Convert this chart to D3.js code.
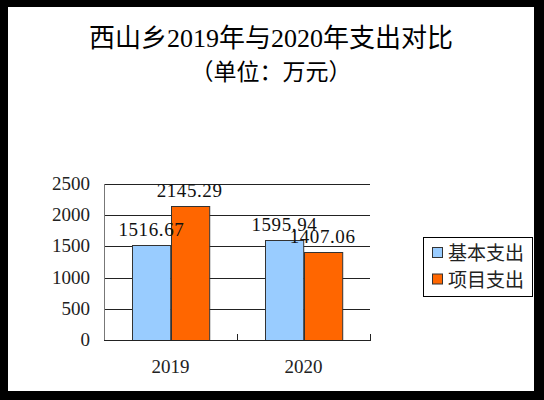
<!DOCTYPE html>
<html>
<head>
<meta charset="utf-8">
<script src="https://cdn.jsdelivr.net/npm/d3@7"></script>
<style>
  body { margin: 0; background: #000; }
  svg { display: block; }
</style>
</head>
<body>
<div id="chart"></div>
<script>
// chart data
let years = ["2019", "2020"];
let seriesNames = ["基本支出", "项目支出"];
let basicValues = [1516.67, 1595.94];
let projectValues = [2145.29, 1407.06];
let yTicks = [0, 500, 1000, 1500, 2000, 2500];
let titleLines = ["西山乡2019年与2020年支出对比", "（单位：万元）"];

let colors = ["#99ccff", "#ff6600"];
let font = "'Liberation Serif', 'Noto Sans CJK SC', serif";

let width = 544, height = 400;
let plot = {left: 104, right: 370, top: 184, bottom: 340};

let svg = d3.select("#chart")
    .append("svg")
    .attr("width", width)
    .attr("height", height);

// black frame with white chart area
svg.append("rect")
    .attr("width", width).attr("height", height)
    .attr("fill", "#000");
svg.append("rect")
    .attr("x", 8).attr("y", 7)
    .attr("width", 526).attr("height", 384)
    .attr("fill", "#fff");

// title
svg.selectAll(".title")
    .data(titleLines)
    .enter()
    .append("text")
    .attr("class", "title")
    .attr("x", 271)
    .attr("y", function (d, i) { return 47 + i * 33; })
    .attr("text-anchor", "middle")
    .style("font-family", font)
    .style("font-size", function (d, i) { return i === 0 ? "26px" : "23px"; })
    .text(function (d) { return d; });

let x = d3.scaleBand()
    .domain(years)
    .range([plot.left, plot.right]);

let xs = d3.scaleBand()
    .domain(seriesNames)
    .range([0, x.bandwidth()])
    .paddingInner(0)
    .paddingOuter(0.74);

let y = d3.scaleLinear()
    .domain([0, 2500])
    .range([plot.bottom, plot.top]);

// gridlines
svg.append("g")
    .selectAll("line")
    .data(yTicks.slice(1))
    .enter()
    .append("line")
    .attr("x1", plot.left).attr("x2", plot.right)
    .attr("y1", function (d) { return Math.round(y(d)) + 0.5; })
    .attr("y2", function (d) { return Math.round(y(d)) + 0.5; })
    .attr("stroke", "#222")
    .attr("stroke-width", 1);

// y axis labels
svg.append("g")
    .selectAll("text")
    .data(yTicks)
    .enter()
    .append("text")
    .attr("x", 90)
    .attr("y", function (d) { return y(d) + 6; })
    .attr("text-anchor", "end")
    .style("font-family", font)
    .style("font-size", "19px")
    .attr("fill", "#222")
    .text(function (d) { return d; });

// bars
let rows = years.map(function (yr, i) {
    return [
        {year: yr, series: seriesNames[0], value: basicValues[i]},
        {year: yr, series: seriesNames[1], value: projectValues[i]}
    ];
});

let groups = svg.append("g")
    .selectAll("g")
    .data(rows)
    .enter()
    .append("g")
    .attr("transform", function (d) { return "translate(" + x(d[0].year) + ",0)"; });

groups.selectAll("rect")
    .data(function (d) { return d; })
    .enter()
    .append("rect")
    .attr("x", function (d) { return Math.round(xs(d.series)) + 0.5; })
    .attr("y", function (d) { return Math.round(y(d.value)) + 0.5; })
    .attr("width", xs.bandwidth())
    .attr("height", function (d) { return plot.bottom - Math.round(y(d.value)); })
    .attr("fill", function (d, i) { return colors[i]; })
    .attr("stroke", "#333")
    .attr("stroke-width", 1);

groups.selectAll("text")
    .data(function (d) { return d; })
    .enter()
    .append("text")
    .attr("x", function (d) { return xs(d.series) + xs.bandwidth() / 2; })
    .attr("y", function (d) { return y(d.value) - 9; })
    .attr("text-anchor", "middle")
    .style("font-family", font)
    .style("font-size", "19px")
    .style("letter-spacing", "0.6px")
    .attr("fill", "#111")
    .text(function (d) { return d.value.toFixed(2); });

// left axis line
svg.append("line")
    .attr("x1", plot.left + 0.5).attr("x2", plot.left + 0.5)
    .attr("y1", plot.top).attr("y2", plot.bottom)
    .attr("stroke", "#777");

// bottom axis with inward ticks between categories
let xAxis = svg.append("g");
xAxis.append("line")
    .attr("x1", plot.left).attr("x2", plot.right + 1)
    .attr("y1", plot.bottom + 0.5).attr("y2", plot.bottom + 0.5)
    .attr("stroke", "#222");
xAxis.selectAll(".tick")
    .data(years)
    .enter()
    .append("line")
    .attr("class", "tick")
    .attr("x1", function (d) { return Math.round(x(d) + x.bandwidth()) + 0.5; })
    .attr("x2", function (d) { return Math.round(x(d) + x.bandwidth()) + 0.5; })
    .attr("y1", plot.bottom - 6).attr("y2", plot.bottom)
    .attr("stroke", "#222");
xAxis.selectAll("text")
    .data(years)
    .enter()
    .append("text")
    .attr("x", function (d) { return x(d) + x.bandwidth() / 2; })
    .attr("y", 373)
    .attr("text-anchor", "middle")
    .style("font-family", font)
    .style("font-size", "19px")
    .attr("fill", "#222")
    .text(function (d) { return d; });

// legend
let legend = svg.append("g").attr("transform", "translate(423,237)");
legend.append("rect")
    .attr("x", 0.5).attr("y", 0.5)
    .attr("width", 109).attr("height", 59)
    .attr("fill", "#fff")
    .attr("stroke", "#000");

let items = legend.selectAll(".item")
    .data(seriesNames)
    .enter()
    .append("g")
    .attr("class", "item")
    .attr("transform", function (d, i) { return "translate(0," + (16 + i * 26.5) + ")"; });

items.append("rect")
    .attr("x", 9.5).attr("y", -5.5)
    .attr("width", 10).attr("height", 10)
    .attr("fill", function (d, i) { return colors[i]; })
    .attr("stroke", "#333");

items.append("text")
    .attr("x", 25)
    .attr("y", 7)
    .style("font-family", font)
    .style("font-size", "19px")
    .attr("fill", "#222")
    .text(function (d) { return d; });
</script>
</body>
</html>
